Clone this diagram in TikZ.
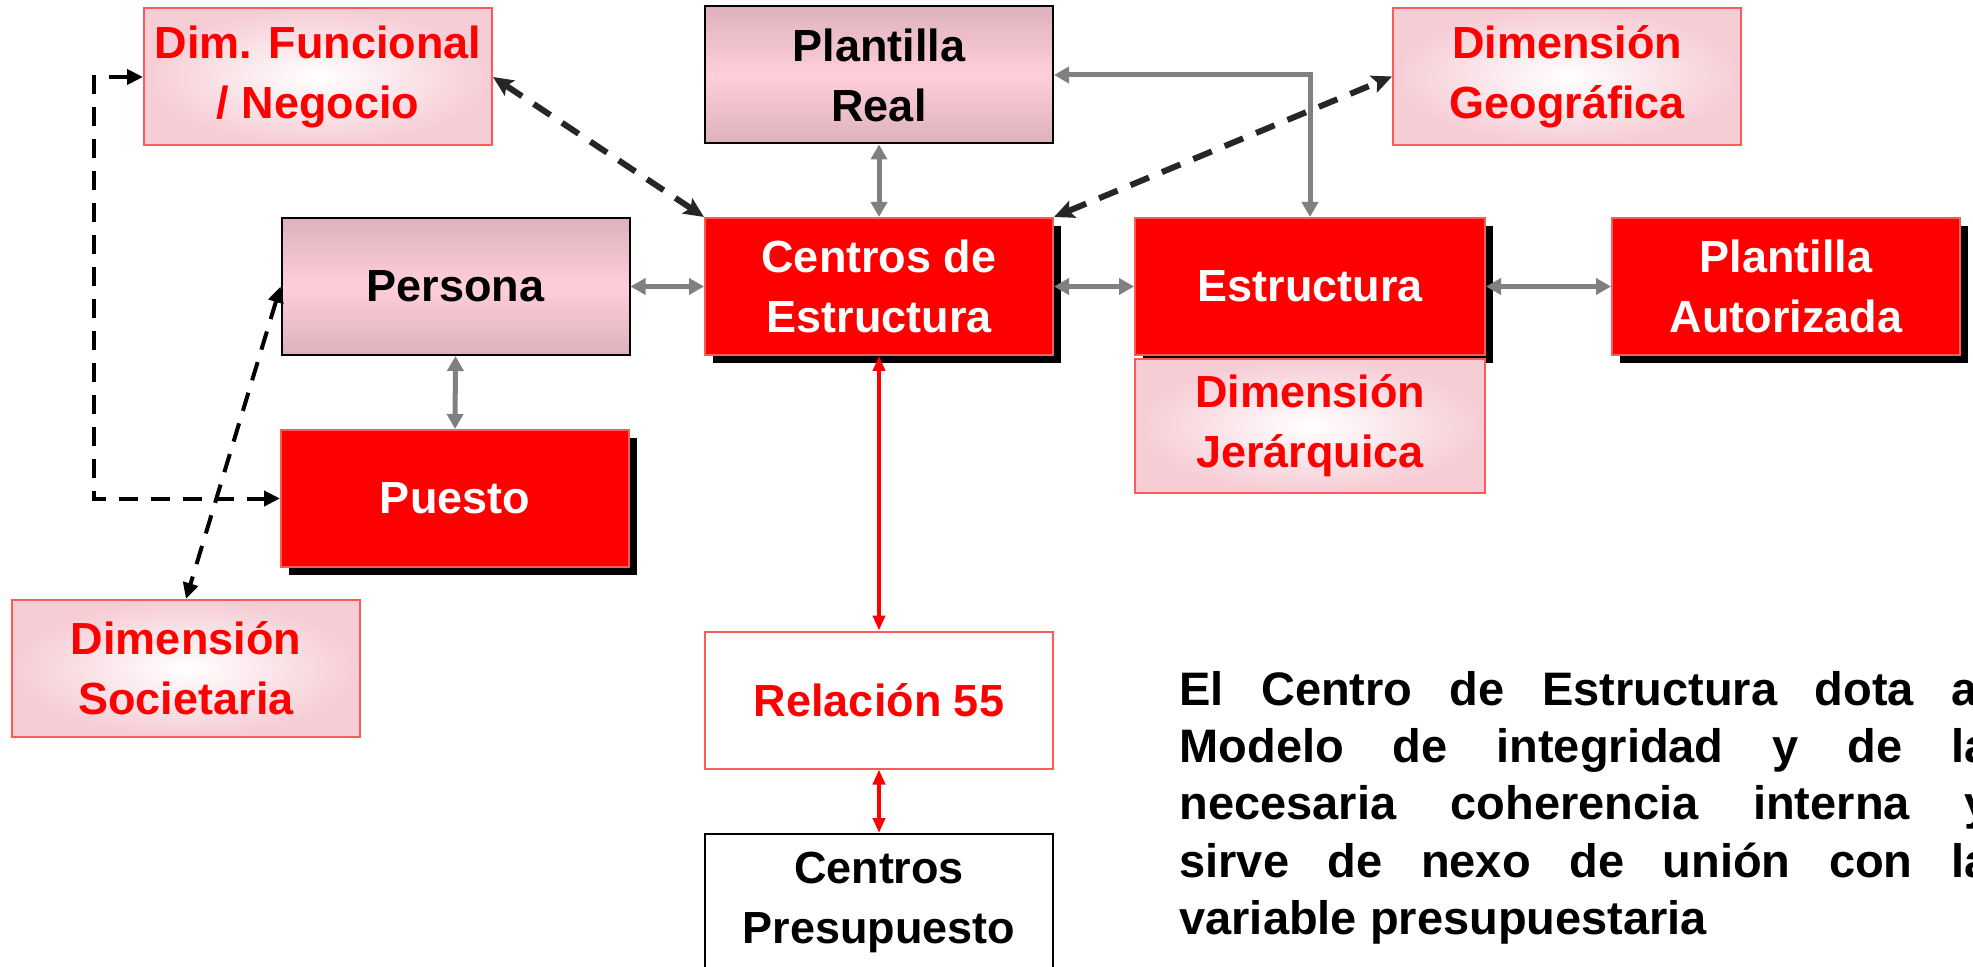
\documentclass[tikz,border=0pt]{standalone}
\usepackage{fontspec}
\setmainfont{Liberation Sans}
\usetikzlibrary{arrows.meta,shadows}
\definecolor{rojo}{RGB}{255,0,0}
\definecolor{rojoborde}{RGB}{255,90,90}
\definecolor{rosa}{RGB}{246,204,213}
\definecolor{malva}{RGB}{221,178,188}
\definecolor{malvaclaro}{RGB}{255,206,218}
\definecolor{gris}{RGB}{128,128,128}
\definecolor{oscuro}{RGB}{38,38,38}
\begin{document}
\begin{tikzpicture}[x=0.5pt,y=-0.5pt,
  base/.style={rectangle, inner sep=0pt, minimum width=174pt, minimum height=68.5pt,
    align=center, font=\fontsize{22.5}{30}\selectfont\bfseries},
  redbox/.style={base, fill=rojo, draw=rojoborde, line width=1pt, text=white,
    drop shadow={shadow xshift=4pt, shadow yshift=-4pt, fill=black, opacity=1}},
  dimbox/.style={base, draw=rojoborde, line width=1pt, inner color=white, outer color=rosa, text=rojo},
  mauvebox/.style={base, draw=black, line width=1pt, top color=malva, bottom color=malva,
    middle color=malvaclaro, text=black},
  whitered/.style={base, draw=rojoborde, line width=1pt, fill=white, text=rojo},
  whiteblack/.style={base, draw=black, line width=1pt, fill=white, text=black},
  garrow/.style={draw=gris, line width=2.5pt,
    {Triangle[length=7.5pt,width=8pt]}-{Triangle[length=7.5pt,width=8pt]}},
  rarrow/.style={draw=rojo, line width=2pt,
    {Triangle[length=7.5pt,width=6pt]}-{Triangle[length=7.5pt,width=6pt]}},
  darrow/.style={draw=black, line width=2pt, dash pattern=on 9.5pt off 6.5pt,
    {Triangle[length=8pt,width=7.5pt]}-{Triangle[length=8pt,width=7.5pt]}},
  dthick/.style={draw=oscuro, line width=3pt, dash pattern=on 10pt off 7pt,
    {Stealth[length=10pt,width=9pt,inset=2pt]}-{Stealth[length=10pt,width=9pt,inset=2pt]}},
  paraline/.style={anchor=base west, inner sep=0pt, font=\fontsize{23.5}{28.5}\selectfont\bfseries}
]
\useasboundingbox (0,0) rectangle (1973,967);
\clip (0,0) rectangle (1973,967);

% boxes
\node[dimbox] (dimf) at (318,77) {Dim. Funcional\\/ Negocio};
\node[mauvebox] (preal) at (879,75) {Plantilla\\Real};
\node[dimbox] (dgeo) at (1567,76.5) {Dimensión\\Geográfica};
\node[mauvebox] (persona) at (455.5,286.5) {Persona};
\node[redbox] (cest) at (879,286.5) {Centros de\\Estructura};
\node[redbox, minimum width=175pt] (estr) at (1310,286.5) {Estructura};
\node[redbox] (pauto) at (1786,286.5) {Plantilla\\Autorizada};
\node[dimbox, minimum width=175pt, minimum height=67pt] (djer) at (1310,426) {Dimensión\\Jerárquica};
\node[redbox] (puesto) at (455,498.5) {Puesto};
\node[dimbox] (dsoc) at (186,668.5) {Dimensión\\Societaria};
\node[whitered] (rel) at (879,700) {Relación 55};
\node[whiteblack] (cpre) at (879,902.5) {Centros\\Presupuesto};

% paragraph
\node[paraline] (p1) at (1179,705) {\makebox[405.5pt][s]{El Centro de Estructura dota al}};
\node[paraline] (p2) at (1179,762) {\makebox[405.5pt][s]{Modelo de integridad y de la}};
\node[paraline] (p3) at (1179,819) {\makebox[405.5pt][s]{necesaria coherencia interna y}};
\node[paraline] (p4) at (1179,877) {\makebox[405.5pt][s]{sirve de nexo de unión con la}};
\node[paraline] (p5) at (1179,934) {variable presupuestaria};

% grey connectors
\draw[garrow] (preal.south) -- (cest.north);
\draw[garrow] (preal.east) -| (estr.north);
\draw[garrow] (persona.east) -- (cest.west);
\draw[garrow] (cest.east) -- (estr.west);
\draw[garrow] (estr.east) -- (pauto.west);
\draw[garrow] (persona.south) -- (puesto.north);

% red connectors
\draw[rarrow] (cest.south) -- (rel.north);
\draw[rarrow] (rel.south) -- (cpre.north);

% dashed connectors
\draw[dthick] (dimf.east) -- (cest.north west);
\draw[dthick] (cest.north east) -- (dgeo.west);
\draw[darrow] (persona.west) -- (dsoc.north);
\draw[darrow] (dimf.west) -- ++(-49,0) |- (puesto.west);
\end{tikzpicture}
\end{document}
